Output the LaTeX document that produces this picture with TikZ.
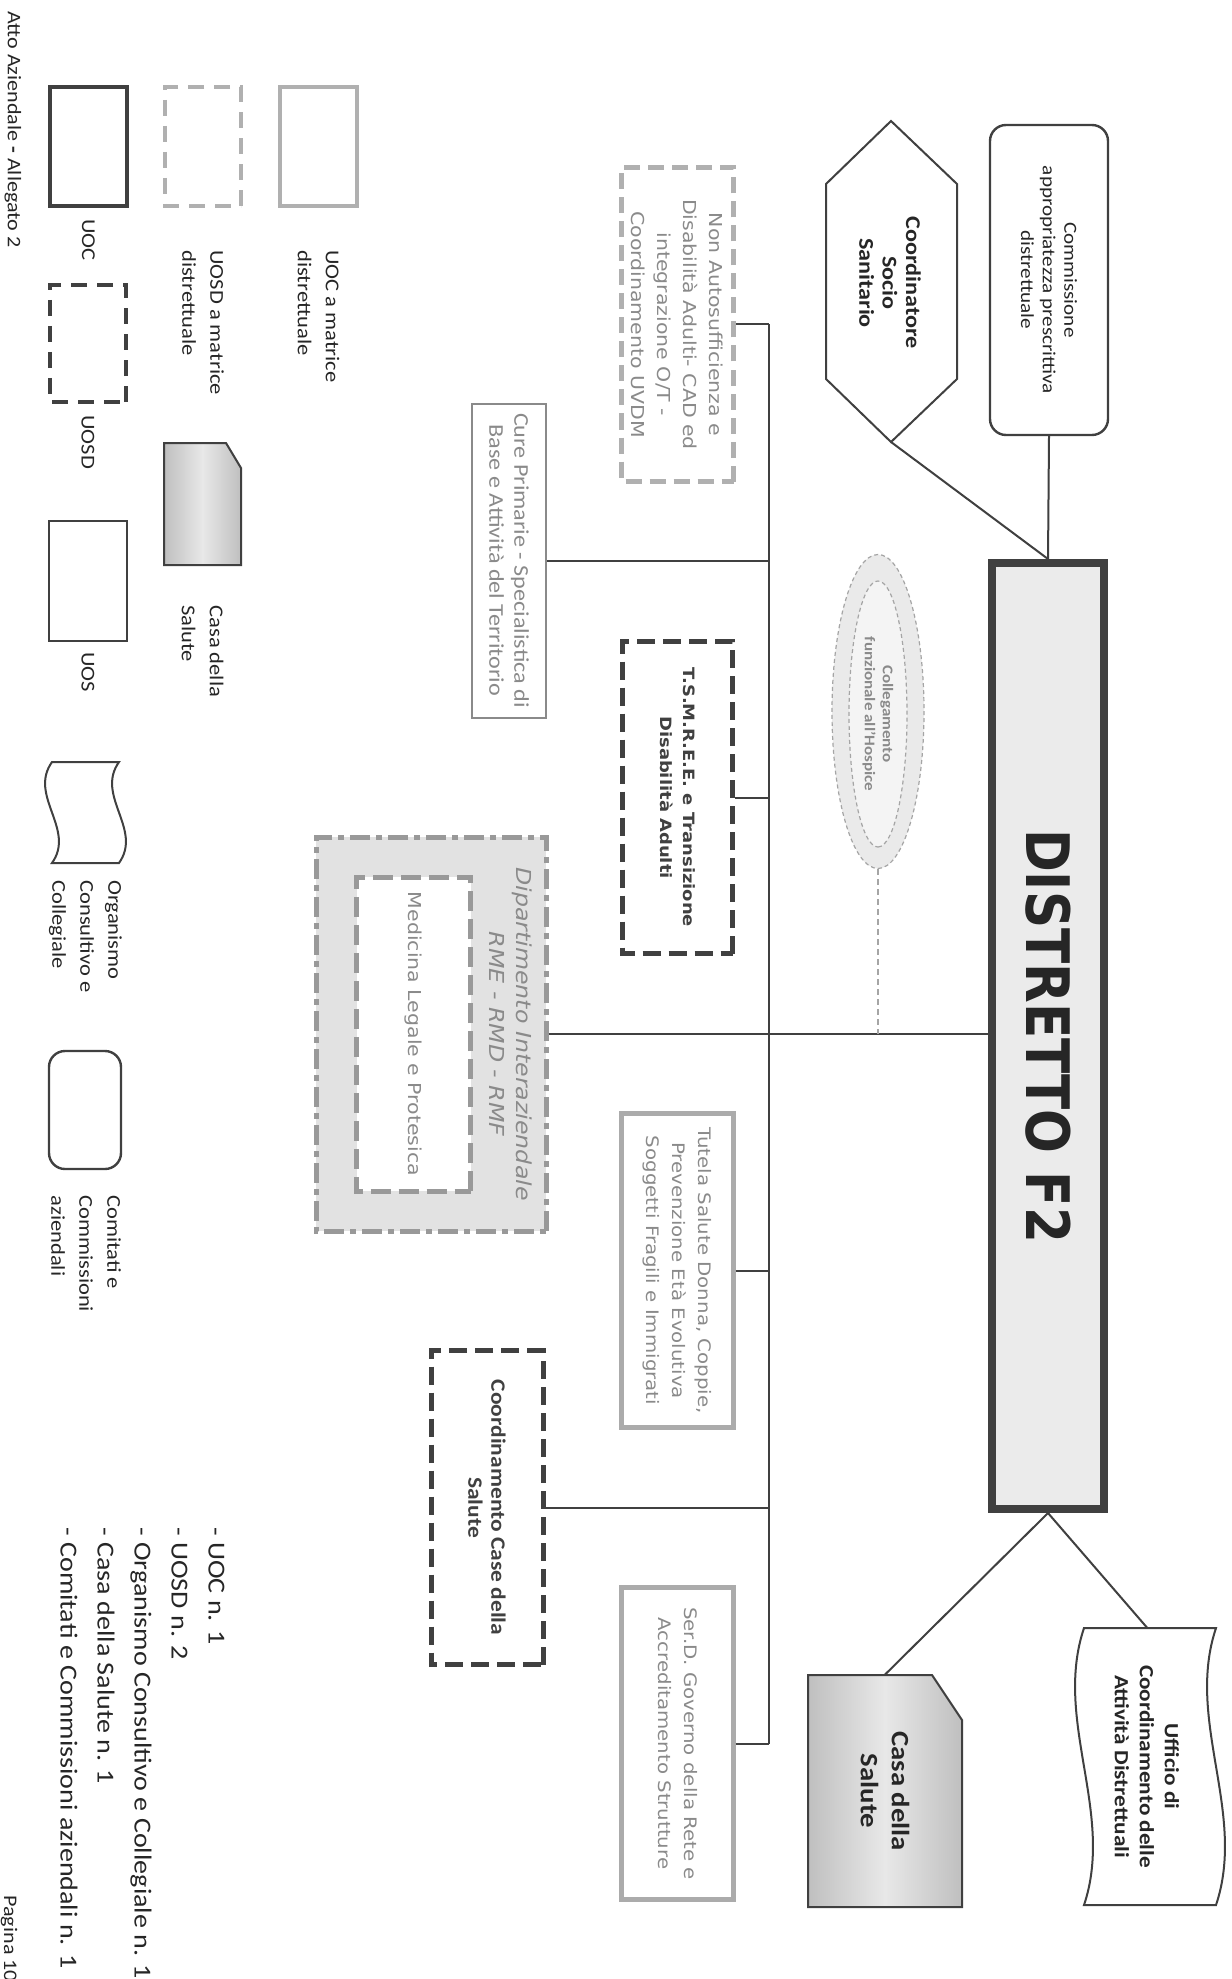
\documentclass[tikz,border=0pt]{standalone}
\usepackage{fontspec}
\setmainfont{Carlito}[FakeStretch=1.15]
\newfontfamily\verd{DejaVu Sans}[FakeStretch=1.15]
\newfontfamily\titlef{DejaVu Sans}[FakeStretch=0.86]
\usetikzlibrary{shapes.geometric,calc}
\definecolor{dk}{HTML}{404040}
\definecolor{lg}{HTML}{B0B0B0}
\definecolor{lgb}{HTML}{ABABAB}
\definecolor{gt}{HTML}{8A8A8A}
\definecolor{dipfill}{HTML}{E2E2E2}
\definecolor{dipline}{HTML}{999999}
\definecolor{distfill}{HTML}{EBEBEB}
\definecolor{elld}{HTML}{A5A5A5}
\definecolor{ringfill}{HTML}{EAEAEA}
\definecolor{innerfill}{HTML}{F4F4F4}
\tikzset{
  every node/.style={inner sep=0pt, align=center, text=black!85},
  conn/.style={draw=dk, line width=1pt},
  lbl/.style={anchor=west, align=left, font=\fontsize{9.8}{14}\selectfont},
  uocbox/.style={draw=dk, line width=2pt},
  uosdbox/.style={draw=dk, line width=2.2pt, dash pattern=on 8pt off 5pt},
  uosbox/.style={draw=dk, line width=1pt},
  muocbox/.style={draw=lg, line width=2pt},
  muosdbox/.style={draw=lg, line width=2.2pt, dash pattern=on 8pt off 5pt},
  casashade/.style={left color=gray!50, right color=gray!50, middle color=gray!18},
  hospring/.style={ellipse, draw=elld, line width=0.6pt, dash pattern=on 2pt off 1.5pt}
}
\begin{document}
\begin{tikzpicture}[x=0.5pt,y=0.5pt]
\useasboundingbox[fill=white] (0,0) rectangle (1231,-1979);
\begin{scope}[rotate=-90, transform shape]
% ---------------- legend ----------------
\node[muocbox, minimum width=59.5pt, minimum height=38.5pt] (lgUOCm) at (146.5,318.5) {};
\node[lbl] (lgUOCmT) at (250,318.5) {UOC a matrice\\distrettuale};
\node[muosdbox, minimum width=59.5pt, minimum height=38pt] (lgUOSDm) at (146.5,203) {};
\node[lbl] (lgUOSDmT) at (250,203) {UOSD a matrice\\distrettuale};
\node[uocbox, minimum width=59.5pt, minimum height=38.5pt] (lgUOC) at (146.5,88.5) {};
\node[lbl] (lgUOCT) at (219,88.5) {UOC};
\node[uosdbox, minimum width=58.5pt, minimum height=38pt] (lgUOSD) at (343.5,88) {};
\node[lbl] (lgUOSDT) at (415,88) {UOSD};
\node[uosbox, minimum width=60pt, minimum height=39pt] (lgUOS) at (580.5,87.5) {};
\node[lbl] (lgUOST) at (652,88) {UOS};
\path[draw=dk, line width=1pt, casashade] (443,164) -- (565,164) -- (565,241) -- (468,241) -- (443,226) -- cycle;
\node[lbl] (lgCasaT) at (605,202.5) {Casa della\\Salute};
\draw[dk, line width=1pt] (762,52) .. controls (795.7,28) and (829.3,76) .. (863,52) -- (863,119) .. controls (829.3,143) and (795.7,95) .. (762,119) -- cycle;
\node[lbl] (lgOrgT) at (880,85.5) {Organismo\\Consultivo e\\Collegiale};
\node[draw=dk, line width=1.2pt, rounded corners=8pt, minimum width=59pt, minimum height=36pt] (lgCom) at (1110,85) {};
\node[lbl] (lgComT) at (1195,86) {Comitati e\\Commissioni\\aziendali};
% list and footer
\node[anchor=west, align=left, font=\fontsize{12.2}{18.5}\selectfont] (list) at (1527,142.5)
  {- UOC n. 1\\- UOSD n. 2\\- Organismo Consultivo e Collegiale n. 1\\- Casa della Salute n. 1\\- Comitati e Commissioni aziendali n. 1};
\node[anchor=west, font=\fontsize{9.6}{11}\selectfont] (atto) at (11,13) {Atto Aziendale \textbf{-} Allegato 2};
\node[anchor=west, font=\fontsize{9.6}{11}\selectfont] (pag) at (1895,9) {Pagina 10};
% ---------------- top ----------------
\node[draw=dk, line width=1.2pt, rounded corners=8pt, minimum width=155pt, minimum height=59pt,
      font=\fontsize{9.2}{10.8}\selectfont] (comm) at (280,1049) {Commissione\\appropriatezza prescrittiva\\distrettuale};
\draw[dk, line width=1pt] (121,891) -- (184,957) -- (379,957) -- (442,891) -- (379,826) -- (184,826) -- cycle;
\coordinate (hexR) at (442,891);
\node[font=\bfseries\fontsize{10.5}{11.7}\selectfont] (hex) at (283,890) {Coordinatore\\Socio\\Sanitario};
\node[draw=dk, line width=4pt, fill=distfill, minimum width=473pt, minimum height=56pt] (dist) at (1036,1048)
  {\titlef\bfseries\fontsize{30}{30}\selectfont DISTRETTO F2};
% hospice
\node[hospring, fill=ringfill, minimum width=157pt, minimum height=46pt] (hosp) at (711.5,878) {};
\node[hospring, fill=innerfill, minimum width=133pt, minimum height=29pt] (hospIn) at (714,878) {};
\node[text=gt, font=\bfseries\fontsize{7.4}{9}\selectfont] (hospT) at (714,878) {Collegamento\\funzionale all'Hospice};
% bottom right
\path[draw=dk, line width=1pt, casashade] (1675,808) -- (1907,808) -- (1907,962) -- (1720,962) -- (1675,932) -- cycle;
\node[minimum width=116pt, minimum height=77pt, font=\bfseries\fontsize{12.5}{15.5}\selectfont] (casa) at (1791,885) {Casa della\\Salute};
\draw[dk, line width=1pt, fill=white] (1628,1084) .. controls (1720.3,1053) and (1812.7,1115) .. (1905,1084) -- (1905,1216) .. controls (1812.7,1247) and (1720.3,1185) .. (1628,1216) -- cycle;
\node[minimum width=138.5pt, minimum height=66pt, font=\bfseries\fontsize{10.1}{12.5}\selectfont] (uff) at (1766.5,1147) {Ufficio di\\Coordinamento delle\\Attività Distrettuali};
% ---------------- units ----------------
\node[draw=lg, line width=2.5pt, dash pattern=on 8pt off 4pt, minimum width=157pt, minimum height=56pt, text=gt,
      font=\verd\fontsize{8.9}{13}\selectfont] (nonauto) at (324.5,677.5)
  {Non Autosufficienza e\\Disabilità Adulti- CAD ed\\integrazione O/T -\\Coordinamento UVDM};
\node[draw=gt, line width=1pt, minimum width=157pt, minimum height=37pt, text=gt,
      font=\fontsize{10.5}{12.5}\selectfont] (cure) at (560.5,509)
  {Cure Primarie - Specialistica di\\Base e Attività del Territorio};
\node[draw=dk, line width=2.5pt, dash pattern=on 9pt off 4pt, minimum width=156pt, minimum height=55pt, text=dk,
      font=\verd\bfseries\fontsize{7.8}{11.5}\selectfont] (tsmree) at (797.5,677.5)
  {T.S.M.R.E.E. e Transizione\\Disabilità Adulti};
\node[draw=dipline, line width=2.5pt, dash pattern=on 10pt off 3pt on 3pt off 3pt, fill=dipfill,
      minimum width=197pt, minimum height=115pt] (dipO) at (1034,431) {};
\node[draw=dipline, line width=2.5pt, dash pattern=on 10pt off 4pt, fill=white, minimum width=157pt, minimum height=57pt,
      text=gt, font=\verd\fontsize{8.9}{11}\selectfont] (dipI) at (1034,413.5) {Medicina Legale e Protesica};
\node[text=gt, font=\verd\itshape\fontsize{10.3}{13.5}\selectfont] (dipT) at (1034,511) {Dipartimento Interaziendale\\RME - RMD - RMF};
\node[draw=lgb, line width=2.2pt, minimum width=157pt, minimum height=56pt, text=gt,
      font=\verd\fontsize{8.6}{13}\selectfont] (tutela) at (1270.5,677.5)
  {Tutela Salute Donna, Coppie,\\Prevenzione Età Evolutiva\\Soggetti Fragili e Immigrati};
\node[draw=dk, line width=2.5pt, dash pattern=on 9pt off 4pt, minimum width=157pt, minimum height=56pt, text=dk,
      font=\bfseries\fontsize{10.2}{11.5}\selectfont] (coordcase) at (1507.5,487)
  {Coordinamento Case della\\Salute};
\node[draw=lgb, line width=2.2pt, minimum width=156pt, minimum height=56pt, text=gt,
      font=\verd\fontsize{8.6}{13}\selectfont] (serd) at (1743.5,677.5)
  {Ser.D. Governo della Rete e\\Accreditamento Strutture};
% ---------------- connectors ----------------
\draw[conn] (comm.east) -- (dist.west);
\draw[conn] (hexR) -- (dist.west);
\draw[conn] (casa.west) -- (dist.east);
\draw[conn] (uff.west) -- (dist.east);
\coordinate (bus) at (0,769);
\draw[conn] (nonauto.north |- bus) -- (serd.north |- bus);
\foreach \n in {nonauto,cure,tsmree,tutela,coordcase,serd} {\draw[conn] (\n.north) -- (\n.north |- bus);}
\draw[conn] (dipO.north) -- (dipO.north |- dist.south);
\draw[elld, line width=0.8pt, dash pattern=on 3pt off 2pt] (hosp.east) -- (hosp.east -| dipO.north);
\end{scope}
\end{tikzpicture}
\end{document}
